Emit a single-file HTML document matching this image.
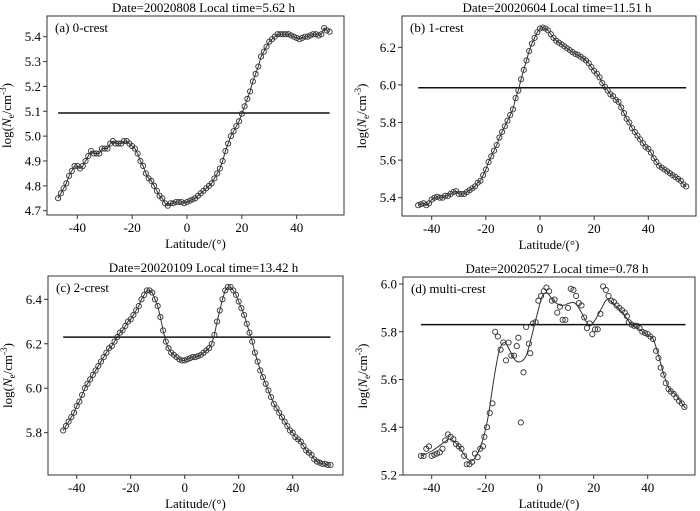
<!DOCTYPE html>
<html><head><meta charset="utf-8"><style>
body{margin:0;background:#fff}
svg{display:block;font-family:"Liberation Serif",serif}
</style></head><body>
<svg id="fig" width="700" height="511" xmlns="http://www.w3.org/2000/svg"></svg>
<script>
const latA=[-47,-46,-45,-44,-43,-42,-41,-40,-39,-38,-37,-36,-35,-34,-33,-32,-31,-30,-29,-28,-27,-26,-25,-24,-23,-22,-21,-20,-19,-18,-17,-16,-15,-14,-13,-12,-11,-10,-9,-8,-7,-6,-5,-4,-3,-2,-1,0,1,2,3,4,5,6,7,8,9,10,11,12,13,14,15,16,17,18,19,20,21,22,23,24,25,26,27,28,29,30,31,32,33,34,35,36,37,38,39,40,41,42,43,44,45,46,47,48,49,50,51,52];
const valA=[4.75,4.77,4.79,4.81,4.84,4.86,4.88,4.88,4.87,4.88,4.90,4.92,4.94,4.93,4.93,4.93,4.95,4.95,4.95,4.97,4.98,4.97,4.97,4.97,4.98,4.98,4.97,4.96,4.95,4.93,4.90,4.88,4.85,4.83,4.82,4.80,4.78,4.76,4.75,4.73,4.72,4.73,4.73,4.735,4.735,4.735,4.73,4.735,4.74,4.745,4.75,4.76,4.77,4.78,4.79,4.80,4.81,4.83,4.85,4.87,4.90,4.94,4.97,5.00,5.02,5.04,5.06,5.09,5.12,5.15,5.18,5.22,5.25,5.28,5.32,5.34,5.36,5.38,5.39,5.40,5.41,5.41,5.41,5.41,5.41,5.405,5.40,5.395,5.39,5.395,5.40,5.40,5.405,5.41,5.41,5.405,5.41,5.435,5.425,5.42];
const latB=[-45,-44,-43,-42,-41,-40,-39,-38,-37,-36,-35,-34,-33,-32,-31,-30,-29,-28,-27,-26,-25,-24,-23,-22,-21,-20,-19,-18,-17,-16,-15,-14,-13,-12,-11,-10,-9,-8,-7,-6,-5,-4,-3,-2,-1,0,1,2,3,4,5,6,7,8,9,10,11,12,13,14,15,16,17,18,19,20,21,22,23,24,25,26,27,28,29,30,31,32,33,34,35,36,37,38,39,40,41,42,43,44,45,46,47,48,49,50,51,52,53,54];
const valB=[5.36,5.365,5.37,5.36,5.37,5.39,5.40,5.405,5.40,5.40,5.41,5.41,5.42,5.43,5.435,5.42,5.42,5.42,5.43,5.44,5.45,5.46,5.48,5.49,5.52,5.55,5.59,5.62,5.65,5.68,5.72,5.75,5.78,5.81,5.84,5.87,5.93,5.97,6.03,6.08,6.13,6.18,6.22,6.25,6.28,6.30,6.305,6.30,6.29,6.27,6.25,6.235,6.225,6.215,6.205,6.195,6.185,6.175,6.165,6.16,6.15,6.14,6.13,6.115,6.095,6.075,6.06,6.04,6.01,5.99,5.97,5.95,5.94,5.92,5.91,5.88,5.85,5.82,5.80,5.77,5.75,5.73,5.71,5.69,5.67,5.66,5.64,5.61,5.59,5.57,5.56,5.55,5.54,5.53,5.52,5.51,5.50,5.49,5.47,5.46];
const latC=latB;
const valC=[5.81,5.83,5.85,5.87,5.89,5.92,5.94,5.97,6.00,6.02,6.04,6.06,6.08,6.10,6.12,6.14,6.16,6.18,6.19,6.21,6.23,6.25,6.26,6.28,6.30,6.31,6.33,6.35,6.37,6.40,6.42,6.44,6.44,6.43,6.40,6.37,6.32,6.26,6.21,6.18,6.16,6.15,6.14,6.13,6.125,6.125,6.13,6.135,6.14,6.14,6.145,6.15,6.16,6.17,6.18,6.20,6.24,6.30,6.35,6.40,6.44,6.455,6.455,6.44,6.42,6.39,6.36,6.33,6.29,6.25,6.21,6.16,6.12,6.08,6.05,6.02,5.99,5.96,5.93,5.91,5.89,5.87,5.85,5.83,5.81,5.80,5.78,5.77,5.76,5.74,5.72,5.71,5.70,5.68,5.67,5.665,5.66,5.66,5.655,5.655];
const latD=[-44,-43,-42,-41,-40,-39,-38,-37,-36,-35,-34,-33,-32,-31,-30,-29,-28,-27,-26,-25,-24,-23,-22,-21,-20.5,-19.5,-18.5,-17.5,-16.5,-15.5,-14.5,-13.5,-12.5,-11.5,-10.5,-9.5,-8.5,-7.9,-7,-6,-5,-4,-3.5,-2.5,-1.5,-0.5,0.5,1.5,2.5,3.5,4.5,5.5,6.5,7.5,8.5,9.5,10.5,11.5,12.5,13.5,14.5,15.5,16.5,17.5,18.5,19.5,20.5,21.5,22.5,23.5,24.5,25.5,26.5,27.5,28.5,29.5,30.5,31.5,32.3,33,34,35,36,37,38,39,40,41,42,43.1,44,44.8,45.8,46.7,47.7,48.6,49.6,50.6,51.6,52.6,53.6];
const valD=[5.28,5.28,5.31,5.32,5.28,5.285,5.29,5.295,5.31,5.345,5.37,5.36,5.35,5.33,5.32,5.31,5.28,5.245,5.245,5.255,5.29,5.275,5.31,5.32,5.36,5.40,5.46,5.50,5.80,5.78,5.725,5.755,5.68,5.755,5.70,5.70,5.74,5.775,5.42,5.63,5.82,5.75,5.71,5.835,5.84,5.93,5.95,5.97,5.985,5.97,5.93,5.935,5.88,5.905,5.85,5.85,5.90,5.98,5.975,5.95,5.92,5.91,5.86,5.815,5.835,5.79,5.81,5.81,5.875,5.99,5.975,5.95,5.93,5.925,5.91,5.90,5.89,5.88,5.865,5.84,5.83,5.825,5.825,5.815,5.80,5.795,5.79,5.78,5.77,5.72,5.69,5.65,5.62,5.585,5.56,5.55,5.54,5.525,5.51,5.50,5.485];
const fitLatD=[-44,-40,-35,-33,-30,-27,-25,-23,-21,-19,-17,-15,-13,-11,-9,-7,-5,-3,-1,1,3,5,8,11,13,15,18,20,23,25,28,31,34,37,40,42,44,46,48,50,52,54];
const fitValD=[5.28,5.30,5.34,5.35,5.32,5.27,5.26,5.29,5.35,5.45,5.60,5.72,5.755,5.72,5.68,5.675,5.70,5.78,5.87,5.95,5.96,5.93,5.91,5.92,5.92,5.89,5.83,5.84,5.90,5.935,5.91,5.875,5.83,5.81,5.785,5.77,5.70,5.62,5.56,5.54,5.51,5.48];
const ticksX=[-40,-20,0,20,40];
const ticksA=[4.7,4.8,4.9,5.0,5.1,5.2,5.3,5.4];
const ticksB=[5.4,5.6,5.8,6.0,6.2];
const ticksC=[5.8,6.0,6.2,6.4];
const ticksD=[5.2,5.4,5.6,5.8,6.0];
const hA=5.093,hB=5.985,hC=6.23,hD=5.83;

const NS="http://www.w3.org/2000/svg";
const svg=document.getElementById('fig');
function mk(tag,attrs,parent){const e=document.createElementNS(NS,tag);for(const k in attrs)e.setAttribute(k,attrs[k]);(parent||svg).appendChild(e);return e;}
function lin(d0,d1,p0,p1){return v=>p0+(v-d0)*(p1-p0)/(d1-d0);}

function panel(o){
  const g=mk('g',{});
  
  
  const X=lin(-40,40,o.x40n,o.x40),Y=lin(o.y0v,o.y1v,o.y0p,o.y1p);
  const box=mk('rect',{x:o.L,y:o.T,width:o.R-o.L,height:o.B-o.T,fill:'none',stroke:'#333','stroke-width':1},g);
  
  const t=mk('text',{x:(o.L+o.R)/2+8,y:o.T-4,'text-anchor':'middle','font-size':13},g);
  t.textContent=o.title;
  const lb=mk('text',{x:o.L+8,y:o.T+16,'font-size':13},g);
  lb.textContent=o.label;
  ticksX.forEach(v=>{const x=X(v);mk('line',{x1:x,x2:x,y1:o.B,y2:o.B+4,stroke:'#333'},g);
    const tx=mk('text',{x:x,y:o.B+17,'text-anchor':'middle','font-size':13},g);tx.textContent=v;
    });
  o.ticks.forEach(v=>{const y=Y(v);mk('line',{x1:o.L-4,x2:o.L,y1:y,y2:y,stroke:'#333'},g);
    const ty=mk('text',{x:o.L-6,y:y+4.5,'text-anchor':'end','font-size':13},g);ty.textContent=v.toFixed(1);
    });
  const xl=mk('text',{x:(o.L+o.R)/2,y:o.B+33,'text-anchor':'middle','font-size':13},g);
  xl.textContent='Latitude/(°)';
  const yc=(o.T+o.B)/2;
  const yl=mk('text',{x:0,y:0,'text-anchor':'middle','font-size':13,transform:`translate(${o.L-36},${yc}) rotate(-90)`},g);
  yl.innerHTML='log(<tspan font-style="italic">N</tspan><tspan font-size="9" dy="3">e</tspan><tspan dy="-3">/cm</tspan><tspan font-size="9" dy="-5">-3</tspan><tspan dy="5">)</tspan>';
  
  const hl=mk('line',{x1:X(o.hx0),x2:X(o.hx1),y1:Y(o.h),y2:Y(o.h),stroke:'#111','stroke-width':1.5},g);
  
  let d;
  if(o.fitLat){
    const P=o.fitLat.map((v,i)=>[X(v),Y(o.fitVal[i])]);
    d='M'+P[0].join(',');
    for(let i=0;i<P.length-1;i++){const p0=P[Math.max(0,i-1)],p1=P[i],p2=P[i+1],p3=P[Math.min(P.length-1,i+2)];
      d+=` C${p1[0]+(p2[0]-p0[0])/6},${p1[1]+(p2[1]-p0[1])/6} ${p2[0]-(p3[0]-p1[0])/6},${p2[1]-(p3[1]-p1[1])/6} ${p2[0]},${p2[1]}`;}
  } else d='M'+o.lat.map((v,i)=>X(v)+','+Y(o.val[i])).join(' L');
  const ln=mk('path',{d:d,fill:'none',stroke:'#333','stroke-width':1},g);
  
  o.lat.forEach((v,i)=>{const c=mk('circle',{cx:X(v),cy:Y(o.val[i]),r:2.6,fill:'none',stroke:'#333','stroke-width':0.9},g);
    });
}
panel({name:'panel-a-0-crest',L:47,R:344,T:16,B:215,x40n:77.3,x40:296.7,y0v:4.7,y1v:5.4,y0p:210.7,y1p:36.7,
  ticks:ticksA,title:'Date=20020808 Local time=5.62 h',label:'(a) 0-crest',lat:latA,val:valA,h:hA,hx0:-47,hx1:52});
panel({name:'panel-b-1-crest',L:402,R:696,T:16,B:216,x40n:431.7,x40:648.3,y0v:5.4,y1v:6.2,y0p:197.7,y1p:47.3,
  ticks:ticksB,title:'Date=20020604 Local time=11.51 h',label:'(b) 1-crest',lat:latB,val:valB,h:hB,hx0:-45,hx1:54});
panel({name:'panel-c-2-crest',L:48,R:343,T:276,B:475,x40n:76.7,x40:292.7,y0v:5.8,y1v:6.4,y0p:432.7,y1p:299.3,
  ticks:ticksC,title:'Date=20020109 Local time=13.42 h',label:'(c) 2-crest',lat:latC,val:valC,h:hC,hx0:-45,hx1:54});
panel({name:'panel-d-multi-crest',L:403,R:695,T:277,B:475,x40n:431.7,x40:647.7,y0v:5.2,y1v:6.0,y0p:475,y1p:284,
  ticks:ticksD,title:'Date=20020527 Local time=0.78 h',label:'(d) multi-crest',lat:latD,val:valD,fitLat:fitLatD,fitVal:fitValD,h:hD,hx0:-44,hx1:54});
</script>
</body></html>
